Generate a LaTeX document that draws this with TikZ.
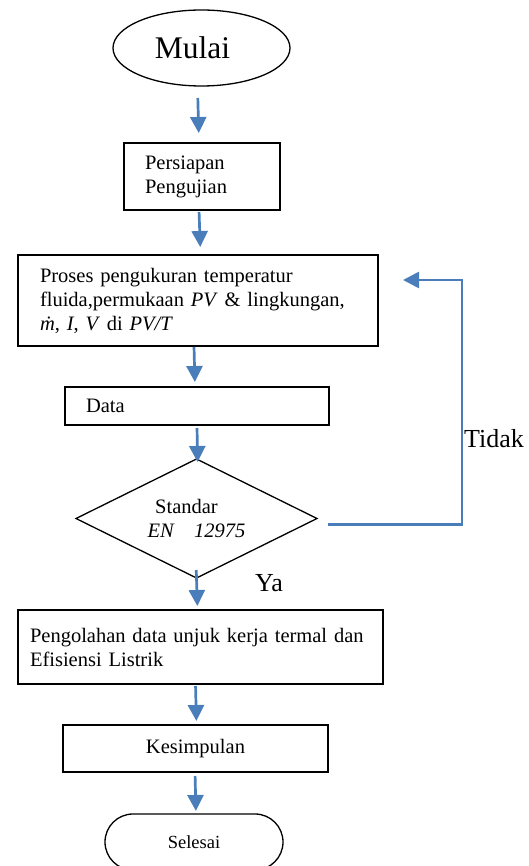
\documentclass[tikz,border=0pt]{standalone}
\usepackage{fontspec}
\setmainfont{Liberation Serif}
\usetikzlibrary{shapes.geometric,shapes.misc,arrows.meta}
\definecolor{flowblue}{RGB}{74,126,187}

\begin{document}
\begin{tikzpicture}[x=1pt,y=-1pt,
  every node/.style={font=\fontsize{20.5}{24}\selectfont},
  procbox/.style={draw, line width=1.5pt, rectangle, inner ysep=0pt, outer sep=0pt, align=left},
  termshape/.style={draw, line width=1.3pt, inner sep=0pt, outer sep=0pt},
  flow/.style={draw=flowblue, line width=2.7pt, -{Triangle[width=16pt,length=16pt]}},
  lbl/.style={font=\fontsize{26}{30}\selectfont, anchor=base west, inner sep=0pt},
]
\useasboundingbox (0,0) rectangle (528,866);

% start / end terminals
\node[termshape, ellipse, minimum width=177pt, minimum height=76pt,
      font=\fontsize{31.5}{36}\selectfont] (start) at (201.5,48) {Mulai\hspace*{18pt}};
\node[termshape, rounded rectangle, minimum width=178pt, minimum height=56pt,
      font=\fontsize{18.5}{22}\selectfont] (stop) at (194,842) {Selesai};

% process steps
\node[procbox, minimum width=156pt, minimum height=67pt, inner xsep=21pt, text width=114pt]
  (prep) at (202,176.5) {Persiapan\\Pengujian};
\node[procbox, minimum width=360pt, minimum height=91pt, inner xsep=22pt, text width=316pt]
  (proc) at (198,300.5) {Proses pengukuran temperatur\\
  fluida,permukaan \textit{PV} \& lingkungan,\\
  \textit{\.{m}}, \textit{I}, \textit{V} di \textit{PV/T}};
\node[procbox, minimum width=264pt, minimum height=38pt, inner xsep=21pt, text width=222pt]
  (data) at (197,406) {Data};
\node[termshape, diamond, aspect=2, minimum width=241pt, minimum height=119pt, align=center]
  (dec) at (196.5,518.5) {Standar\hspace*{20pt}\\\textit{EN\quad 12975}};
\node[procbox, minimum width=365pt, minimum height=74pt, inner xsep=12pt, text width=341pt]
  (post) at (200.5,647) {Pengolahan data unjuk kerja termal dan\\Efisiensi Listrik};
\node[procbox, minimum width=265pt, minimum height=47pt, align=center]
  (concl) at (195.5,748.5) {Kesimpulan};

% main flow
\draw[flow, shorten <=12pt, shorten >=10pt] ([xshift=-4pt]start.south) -- ([xshift=-3pt]prep.north);
\draw[flow, shorten <=2pt, shorten >=8pt] ([xshift=-3pt]prep.south) -- ([xshift=2.5pt]proc.north);
\draw[flow, shorten <=1pt, shorten >=5pt] ([xshift=-4pt]proc.south) -- ([xshift=-2pt]data.north);
\draw[flow, shorten <=3pt, shorten >=-3pt] (data.south) -- ([xshift=1pt]dec.north);
\draw[flow, shorten <=-8pt, shorten >=4pt] (dec.south) -- ([xshift=-3pt]post.north);
\draw[flow, shorten <=2pt, shorten >=4pt] ([xshift=-5pt]post.south) -- ([xshift=1pt]concl.north);
\draw[flow, shorten <=4pt, shorten >=3pt] ([xshift=-0.5pt]concl.south) -- ([xshift=2pt]stop.north);

% "Tidak" feedback loop
\coordinate (noout) at (328,524.5);
\coordinate (noin) at (403,280);
\draw[flow] (noout) -- (462,524.5) |- (noin);

% branch labels
\node[lbl] (ya) at (255,591) {Ya};
\node[lbl] (tidak) at (464,447) {Tidak};
\end{tikzpicture}
\end{document}
